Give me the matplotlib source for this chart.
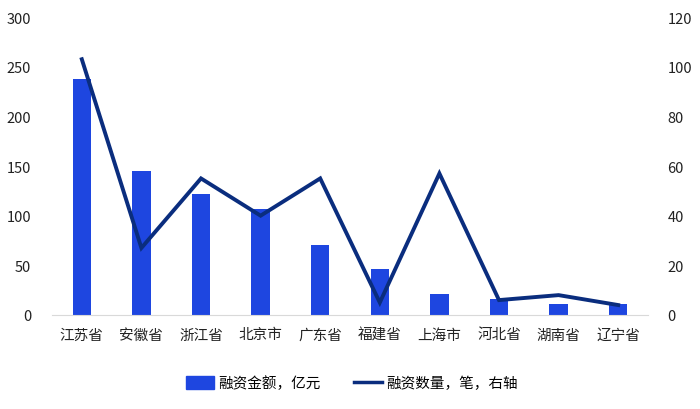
import matplotlib
matplotlib.use("Agg")
import matplotlib.pyplot as plt
from matplotlib.patches import Patch
from matplotlib.lines import Line2D

plt.rcParams['font.family'] = ['Noto Sans CJK SC', 'DejaVu Sans']

categories = ['江苏省', '安徽省', '浙江省', '北京市', '广东省', '福建省', '上海市', '河北省', '湖南省', '辽宁省']
amount = [238, 145, 121.5, 106.5, 70, 46.5, 21.5, 16, 11.5, 10.7]
count = [103, 27, 55, 40, 55, 5, 57, 6, 8, 4]
left_ticks = [0, 50, 100, 150, 200, 250, 300]
right_ticks = [0, 20, 40, 60, 80, 100, 120]

bar_color = '#1e46e0'
line_color = '#0a2d7e'

fig = plt.figure(figsize=(7, 4.1), dpi=100)
ax = fig.add_axes([0.0743, 0.2293, 0.8514, 0.7267])
x = list(range(len(categories)))
ax.bar(x, amount, width=0.31, color=bar_color, zorder=2)
ax.set_xlim(-0.5, len(categories) - 0.5)
ax.set_ylim(0, 300)
ax.set_yticks(left_ticks)
ax.set_xticks(x)
ax.set_xticklabels(categories)
for s in ['top', 'right', 'left']:
    ax.spines[s].set_visible(False)
ax.spines['bottom'].set_color('#d9d9d9')
ax.tick_params(axis='both', length=0, labelsize=10.5, colors='#222222')
ax.tick_params(axis='x', pad=9)
ax.tick_params(axis='y', pad=15)

ax2 = ax.twinx()
ax2.plot(x, count, color=line_color, linewidth=2.8, zorder=3, solid_joinstyle='miter')
ax2.set_ylim(0, 120)
ax2.set_yticks(right_ticks)
for s in ['top', 'right', 'left', 'bottom']:
    ax2.spines[s].set_visible(False)
ax2.tick_params(axis='y', length=0, labelsize=10.5, colors='#222222', pad=14)

handles = [Patch(color=bar_color, label='融资金额，亿元'),
           Line2D([0], [0], color=line_color, linewidth=2.5, label='融资数量，笔，右轴')]
fig.legend(handles=handles, loc='center', bbox_to_anchor=(0.503, 0.063), ncol=2,
           frameon=False, fontsize=10.5, handlelength=1.9, handleheight=0.9,
           columnspacing=2.3, handletextpad=0.3)

fig.savefig('out.png', dpi=100)
